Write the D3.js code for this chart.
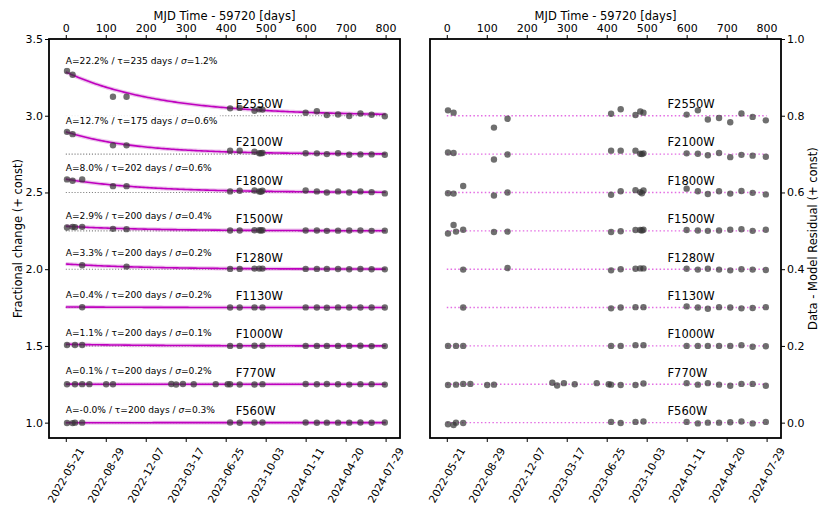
<!DOCTYPE html>
<html>
<head>
<meta charset="utf-8">
<script src="https://cdn.jsdelivr.net/npm/d3@7"></script>
<style>
body { margin: 0; background: #fff; }
text { font-family: "DejaVu Sans", sans-serif; fill: #000; }
</style>
</head>
<body>
<div class="chart"></div>
<script>
/*
----------------------------------------------------------
                   the data
----------------------------------------------------------
*/
var filters    = ["F2550W", "F2100W", "F1800W", "F1500W", "F1280W", "F1130W", "F1000W", "F770W", "F560W"];
var offsets    = [3.0, 2.75, 2.5, 2.25, 2.0, 1.75, 1.5, 1.25, 1.0];
var residConst = [0.8, 0.7, 0.6, 0.5, 0.4, 0.3, 0.2, 0.1, 0.0];
var amplitudes = [0.222, 0.127, 0.080, 0.029, 0.033, 0.004, 0.011, 0.001, -0.0004];
var taus       = [235, 175, 202, 200, 200, 200, 200, 200, 200];
var sigmas     = [0.012, 0.006, 0.006, 0.004, 0.002, 0.002, 0.001, 0.002, 0.003];

var dayTicks   = [0, 100, 200, 300, 400, 500, 600, 700, 800];
var dateLabels = ["2022-05-21", "2022-08-29", "2022-12-07", "2023-03-17", "2023-06-25",
                  "2023-10-03", "2024-01-11", "2024-04-20", "2024-07-29"];
var leftTicks  = [1.0, 1.5, 2.0, 2.5, 3.0, 3.5];
var rightTicks = [0.0, 0.2, 0.4, 0.6, 0.8, 1.0];

var daysF2550W  = [3, 17, 118, 152, 411, 435, 472, 484, 492, 600, 628, 653, 681, 709, 737, 765, 798];
var fluxF2550W  = [3.291, 3.267, 3.124, 3.124, 3.048, 3.051, 3.032, 3.042, 3.040, 3.019, 3.029, 3.004, 3.008, 2.998, 3.015, 3.006, 2.997];
var residF2550W = [0.014, 0.008, -0.031, -0.008, 0.005, 0.017, 0.002, 0.011, 0.008, 0.003, 0.014, -0.010, -0.006, -0.017, 0.006, -0.003, -0.012];

var daysF2100W  = [3, 17, 118, 152, 411, 435, 472, 484, 488, 492, 600, 628, 653, 681, 709, 737, 765, 798];
var fluxF2100W  = [2.895, 2.880, 2.807, 2.807, 2.772, 2.772, 2.765, 2.756, 2.755, 2.757, 2.756, 2.755, 2.750, 2.756, 2.746, 2.748, 2.748, 2.746];
var residF2100W = [0.004, 0.003, -0.014, -0.001, 0.009, 0.009, 0.009, 0.001, 0.000, 0.002, 0.002, 0.001, -0.003, 0.003, -0.008, -0.002, -0.004, -0.007];

var daysF1800W  = [3, 17, 41, 118, 152, 411, 435, 472, 484, 488, 492, 600, 628, 653, 681, 709, 737, 765, 798];
var fluxF1800W  = [2.585, 2.576, 2.585, 2.541, 2.541, 2.507, 2.511, 2.513, 2.507, 2.505, 2.511, 2.513, 2.507, 2.500, 2.507, 2.500, 2.507, 2.502, 2.494];
var residF1800W = [-0.002, -0.003, 0.017, -0.008, 0.000, -0.006, 0.003, 0.006, 0.001, -0.002, 0.005, 0.010, 0.003, -0.004, 0.003, -0.003, 0.004, -0.001, -0.005];

var daysF1500W  = [3, 17, 23, 41, 118, 152, 411, 435, 472, 484, 488, 492, 600, 628, 653, 681, 709, 737, 765, 798];
var fluxF1500W  = [2.272, 2.276, 2.274, 2.276, 2.263, 2.261, 2.252, 2.252, 2.254, 2.254, 2.252, 2.254, 2.252, 2.252, 2.250, 2.251, 2.252, 2.252, 2.250, 2.251];
var residF1500W = [-0.007, 0.015, -0.002, 0.003, -0.003, -0.002, -0.003, -0.001, 0.002, 0.002, 0.001, 0.003, 0.002, 0.001, 0.000, 0.001, 0.003, 0.004, 0.000, 0.003];

var daysF1280W  = [41, 152, 411, 435, 472, 484, 492, 600, 628, 653, 681, 709, 737, 765, 798];
var fluxF1280W  = [2.026, 2.017, 2.002, 2.002, 2.004, 2.004, 2.004, 2.002, 2.002, 2.002, 2.001, 2.000, 2.001, 2.000, 1.999];
var residF1280W = [-0.001, 0.003, -0.003, 0.000, 0.001, 0.002, 0.002, 0.001, -0.001, 0.001, -0.001, -0.003, 0.000, -0.001, -0.002];

var daysF1130W  = [41, 411, 435, 472, 492, 600, 628, 653, 681, 709, 737, 765, 798];
var fluxF1130W  = [1.752, 1.750, 1.750, 1.751, 1.751, 1.751, 1.750, 1.749, 1.751, 1.750, 1.750, 1.750, 1.750];
var residF1130W = [0.000, -0.002, 0.000, 0.001, 0.001, 0.003, 0.000, -0.003, 0.001, 0.000, -0.002, -0.001, 0.001];

var daysF1000W  = [3, 23, 41, 411, 435, 472, 492, 600, 628, 653, 681, 709, 737, 765, 798];
var fluxF1000W  = [1.506, 1.506, 1.506, 1.500, 1.500, 1.501, 1.501, 1.500, 1.500, 1.500, 1.500, 1.500, 1.501, 1.499, 1.499];
var residF1000W = [0.000, 0.000, 0.000, 0.000, 0.000, 0.002, 0.002, 0.000, 0.000, 0.000, 0.000, 0.000, 0.002, -0.002, -0.001];

var daysF770W   = [3, 23, 41, 59, 101, 118, 264, 276, 293, 320, 375, 405, 411, 435, 472, 492, 600, 628, 653, 681, 709, 737, 765, 798];
var fluxF770W   = [1.250, 1.250, 1.251, 1.251, 1.250, 1.250, 1.252, 1.249, 1.252, 1.250, 1.251, 1.250, 1.250, 1.249, 1.249, 1.251, 1.252, 1.250, 1.252, 1.250, 1.248, 1.251, 1.251, 1.248];
var residF770W  = [-0.002, -0.001, 0.001, 0.001, -0.002, -0.001, 0.004, -0.003, 0.003, 0.000, 0.003, 0.000, -0.001, -0.002, -0.002, 0.002, 0.003, -0.001, 0.003, -0.001, -0.004, 0.001, 0.001, -0.004];

var daysF560W   = [3, 17, 23, 41, 411, 435, 472, 492, 600, 628, 653, 681, 709, 737, 765, 798];
var fluxF560W   = [0.998, 0.997, 1.000, 1.000, 1.001, 0.999, 1.001, 1.001, 1.001, 0.999, 1.000, 1.000, 1.000, 1.001, 0.999, 1.001];
var residF560W  = [-0.004, -0.006, 0.000, -0.001, 0.002, -0.001, 0.002, 0.003, 0.002, -0.002, 0.000, 0.000, 0.001, 0.003, -0.002, 0.002];

var days   = [daysF2550W, daysF2100W, daysF1800W, daysF1500W, daysF1280W, daysF1130W, daysF1000W, daysF770W, daysF560W];
var fluxes = [fluxF2550W, fluxF2100W, fluxF1800W, fluxF1500W, fluxF1280W, fluxF1130W, fluxF1000W, fluxF770W, fluxF560W];
var resids = [residF2550W, residF2100W, residF1800W, residF1500W, residF1280W, residF1130W, residF1000W, residF770W, residF560W];

/*
----------------------------------------------------------
                   the panels
----------------------------------------------------------
*/
var width = 830, height = 519;
var plotTop = 39, plotBottom = 438;
var dayDomain = [-42, 836];

var svg = d3.select(".chart").append("svg")
    .attr("width", width)
    .attr("height", height);

function Panel(left, right, yDomain) {
    var x = d3.scaleLinear().domain(dayDomain).range([left, right]);
    var y = d3.scaleLinear().domain(yDomain).range([plotBottom, plotTop]);
    var g = svg.append("g");
    return { x: x, y: y, g: g, left: left, right: right };
}

function drawFrame(p, yTicks, ySide, yTitle, titleX) {
    // top axis in days
    var topAxis = d3.axisTop(p.x).tickValues(dayTicks).tickSize(4).tickPadding(3);
    var ta = p.g.append("g").attr("transform", "translate(0," + plotTop + ")").call(topAxis);
    ta.select(".domain").remove();
    ta.selectAll("text").attr("font-size", 11).attr("font-family", "DejaVu Sans");

    p.g.append("text")
        .attr("x", (p.left + p.right) / 2)
        .attr("y", 19.5)
        .attr("text-anchor", "middle")
        .attr("font-size", 11.5)
        .text("MJD Time - 59720 [days]");

    // bottom axis with rotated dates
    var botAxis = d3.axisBottom(p.x).tickValues(dayTicks).tickSize(4).tickFormat("");
    var ba = p.g.append("g").attr("transform", "translate(0," + plotBottom + ")").call(botAxis);
    ba.select(".domain").remove();

    p.g.selectAll(".date").data(dayTicks).enter()
        .append("text")
            .attr("class", "date")
            .attr("font-size", 10.6)
            .attr("text-anchor", "middle")
            .attr("dominant-baseline", "central")
            .attr("transform", function(d) { return "translate(" + p.x(d) + "," + (plotBottom + 37) + ") rotate(-60)"; })
            .text(function(d, i) { return dateLabels[i]; });

    // value axis
    var yAxis, yx;
    if(ySide == "left") {
        yAxis = d3.axisLeft(p.y);
        yx = p.left;
    } else {
        yAxis = d3.axisRight(p.y);
        yx = p.right;
    }
    yAxis.tickValues(yTicks).tickSize(4).tickPadding(2).tickFormat(d3.format(".1f"));
    var ya = p.g.append("g").attr("transform", "translate(" + yx + ",0)").call(yAxis);
    ya.select(".domain").remove();
    ya.selectAll("text").attr("font-size", 11).attr("font-family", "DejaVu Sans");

    p.g.append("text")
        .attr("transform", "translate(" + titleX + "," + ((plotTop + plotBottom) / 2) + ") rotate(-90)")
        .attr("text-anchor", "middle")
        .attr("dominant-baseline", "central")
        .attr("font-size", 11.5)
        .text(yTitle);

    p.g.append("rect")
        .attr("x", p.left)
        .attr("y", plotTop)
        .attr("width", p.right - p.left)
        .attr("height", plotBottom - plotTop)
        .attr("fill", "none")
        .attr("stroke", "#000")
        .attr("stroke-width", 1.8);
}

function drawPoints(p, xs, ys) {
    p.g.append("g").selectAll("circle").data(xs).enter()
        .append("circle")
            .attr("cx", function(d) { return p.x(d); })
            .attr("cy", function(d, i) { return p.y(ys[i]); })
            .attr("r", 3.2)
            .attr("fill", "#383838")
            .attr("fill-opacity", 0.72);
}

/*
----------------------------------------------------------
                   left: light curves + fits
----------------------------------------------------------
*/
var lp = Panel(49, 400, [0.9, 3.5]);
var rp = Panel(430, 781, [-0.04, 1.0]);

var sampleDays = d3.range(0, 801, 5);
var line = d3.line();

filters.forEach(function(f, k) {
    var base = offsets[k];
    var a = amplitudes[k] / (1 - amplitudes[k]);
    var tau = taus[k];

    lp.g.append("line")
        .attr("x1", lp.x(0)).attr("x2", lp.x(800))
        .attr("y1", lp.y(base)).attr("y2", lp.y(base))
        .attr("stroke", "#808080")
        .attr("stroke-width", 1.1)
        .attr("stroke-dasharray", "1.1,1.8");

    var pts = sampleDays.map(function(t) { return [lp.x(t), lp.y(base + a * Math.exp(-t / tau))]; });
    lp.g.append("path")
        .attr("d", line(pts))
        .attr("fill", "none")
        .attr("stroke", "#c040c0")
        .attr("stroke-opacity", 0.3)
        .attr("stroke-width", 4);
    lp.g.append("path")
        .attr("d", line(pts))
        .attr("fill", "none")
        .attr("stroke", "#bf00bf")
        .attr("stroke-width", 1.6);

    drawPoints(lp, days[k], fluxes[k]);

    lp.g.append("text")
        .attr("x", lp.x(425))
        .attr("y", lp.y(base + 0.05))
        .attr("font-size", 11.5)
        .text(f);
});

// fit annotations go on top with a white box
filters.forEach(function(f, k) {
    var base = offsets[k];
    var a = amplitudes[k] / (1 - amplitudes[k]);
    var ty = lp.y(base + Math.max(a + 0.05, 0.065));
    var t = lp.g.append("text")
        .attr("x", lp.x(0))
        .attr("y", ty)
        .attr("font-size", 9.1);
    t.append("tspan").text("A=" + (amplitudes[k] * 100).toFixed(1) + "% / \u03c4=" + taus[k] + " days / ");
    t.append("tspan").attr("font-style", "italic").text("\u03c3");
    t.append("tspan").text("=" + (sigmas[k] * 100).toFixed(1) + "%");
    var bb = t.node().getBBox();
    lp.g.insert("rect", function() { return t.node(); })
        .attr("x", bb.x - 2)
        .attr("y", bb.y - 1.5)
        .attr("width", bb.width + 4)
        .attr("height", bb.height + 3)
        .attr("fill", "#fff")
        .attr("fill-opacity", 0.85);
});

drawFrame(lp, leftTicks, "left", "Fractional change (+ const)", 17.5);

/*
----------------------------------------------------------
                   right: residuals
----------------------------------------------------------
*/
filters.forEach(function(f, k) {
    var base = residConst[k];

    rp.g.append("line")
        .attr("x1", rp.x(0)).attr("x2", rp.x(800))
        .attr("y1", rp.y(base)).attr("y2", rp.y(base))
        .attr("stroke", "#e36de3")
        .attr("stroke-width", 1.4)
        .attr("stroke-dasharray", "1.5,2.3");

    var shifted = resids[k].map(function(r) { return r + base; });
    drawPoints(rp, days[k], shifted);

    rp.g.append("text")
        .attr("x", rp.x(552))
        .attr("y", rp.y(base + 0.02))
        .attr("font-size", 11.5)
        .text(f);
});

drawFrame(rp, rightTicks, "right", "Data - Model Residual (+ const)", 812.5);
</script>
</body>
</html>
